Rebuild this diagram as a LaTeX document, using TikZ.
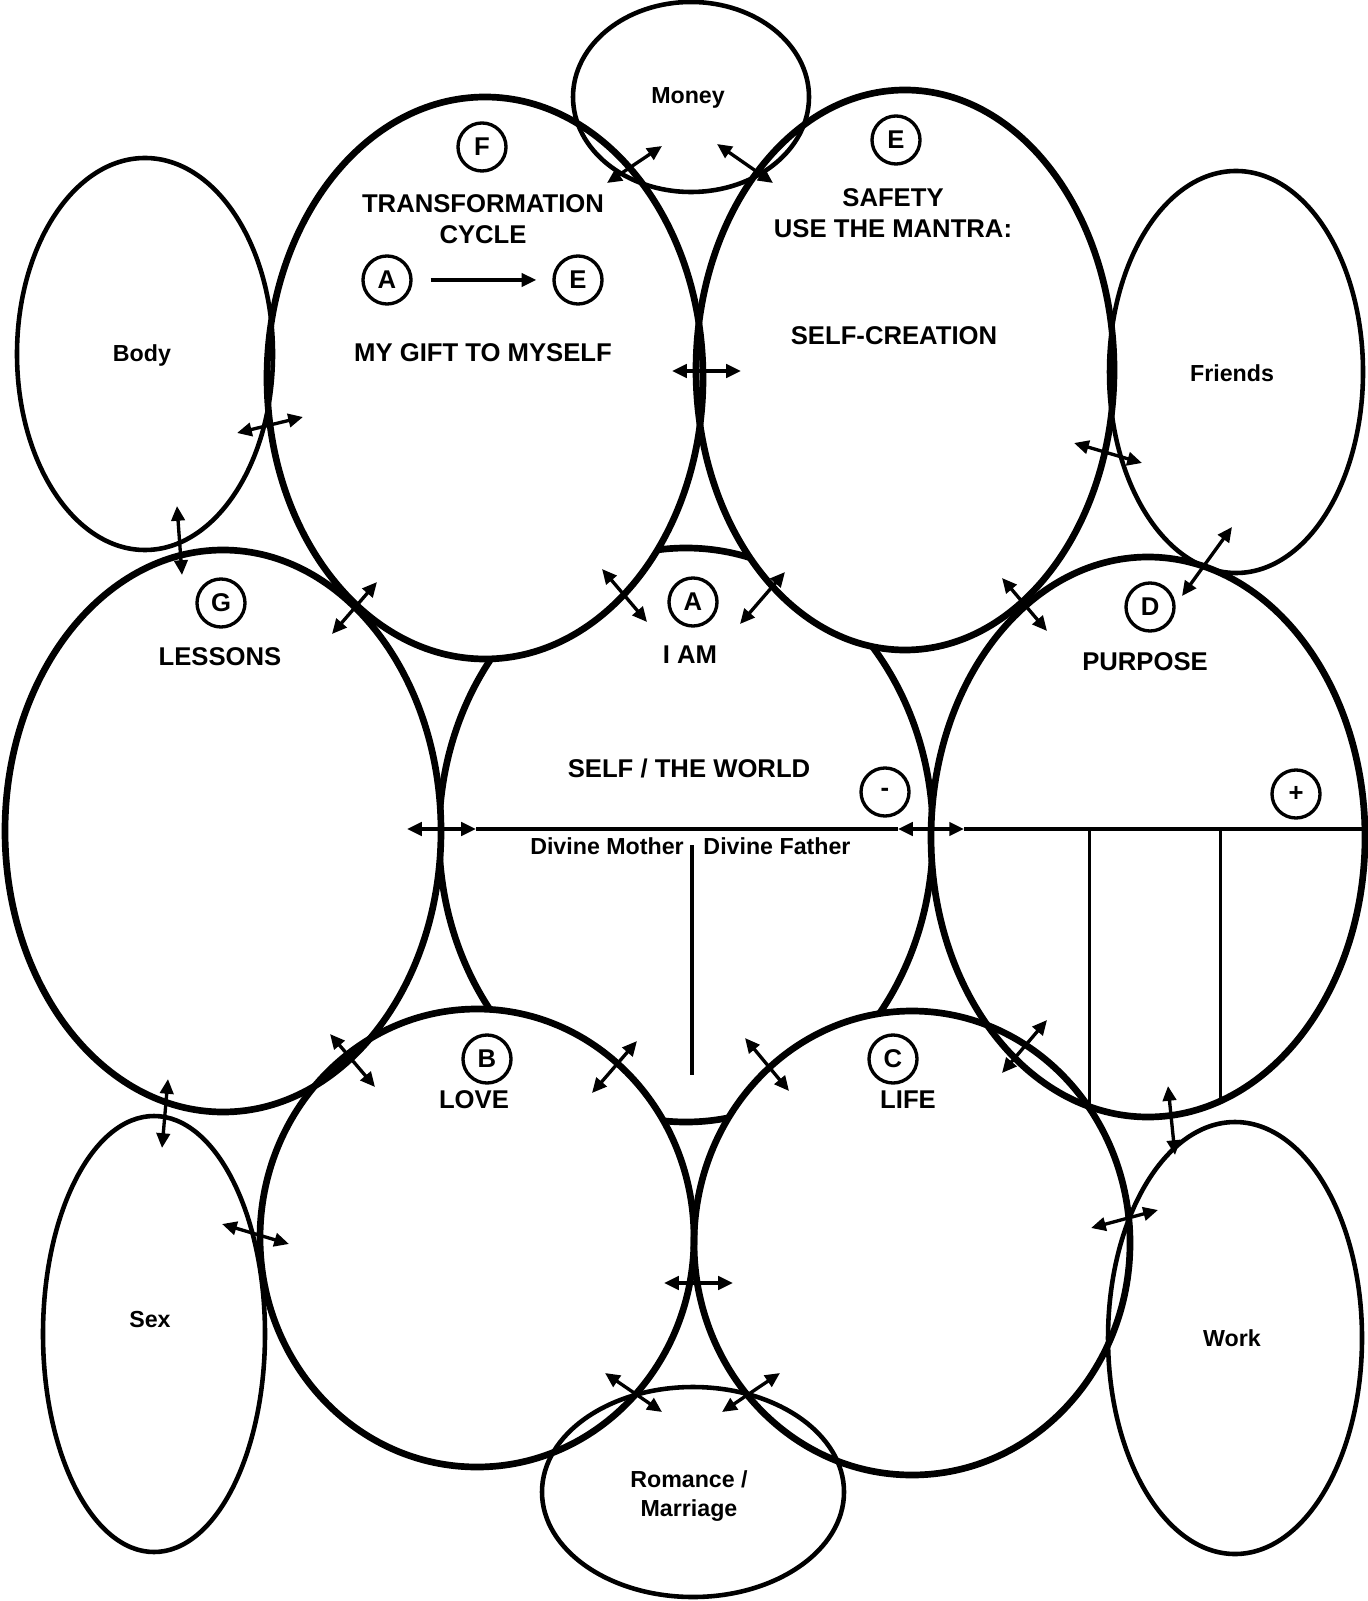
\documentclass[tikz,border=0pt]{standalone}
\usepackage{fontspec}
\setmainfont{Liberation Sans}
\usetikzlibrary{arrows.meta,shapes.geometric}

\begin{document}
\begin{tikzpicture}[x=0.01cm, y=-0.01cm,
  every node/.style={font=\bfseries\fontsize{7.3}{8.8}\selectfont, inner sep=0pt, align=center},
  >={Triangle[length=4.2pt,width=3.8pt]}]
\tikzset{
  bigring/.style={line width=1.9pt},
  smallring/.style={line width=1.3pt},
  tag/.style={draw, circle, line width=0.95pt, minimum size=0.48cm},
  small/.style={font=\bfseries\fontsize{6.6}{8.5}\selectfont},
  link/.style={<->, line width=0.95pt},
  flow/.style={->, line width=0.95pt},
  rule/.style={line width=1pt},
}
\useasboundingbox (0,0) rectangle (1367,1601);

% self / the world, hidden under the big rings
\draw[bigring] (686,835) ellipse [x radius=247, y radius=287];
\def\bigrings{485/378/218/281, 905/370/209/280, 223/831/218/281, 1148/837/217/280, 477/1238/217/229, 912/1243/218/232}
\foreach \cx/\cy/\rx/\ry in \bigrings
  \fill[white] (\cx,\cy) ellipse [x radius=\rx, y radius=\ry];
\foreach \cx/\cy/\rx/\ry in \bigrings
  \draw[bigring] (\cx,\cy) ellipse [x radius=\rx, y radius=\ry];
% money, body, friends, sex, work, romance
\foreach \cx/\cy/\rx/\ry in {691/97/118/95, 145/354/128/196, 1236/372/127/201, 154/1334/111/218, 1235/1338/127/216, 693/1492/151/105}
  \draw[smallring] (\cx,\cy) ellipse [x radius=\rx, y radius=\ry];

% labels
\node[small] (money) at (688,98) {Money};
\node[small] (body) at (142,356) {Body};
\node[small] (friends) at (1232,373) {Friends};
\node[small] (sex) at (150,1319) {Sex};
\node[small] (work) at (1232,1338) {Work};
\node[small] (romance) at (689,1496) {Romance /\\Marriage};

\node[tag] (tagF) at (482,147) {F};
\node (trans) at (483,219) {TRANSFORMATION\\CYCLE};
\node[tag] (tagA1) at (387,280) {A};
\node[tag] (tagE1) at (578,280) {E};
\draw[flow, shorten <=0.18cm, shorten >=0.16cm] (tagA1.east) -- (tagE1.west);
\node (gift) at (483,353) {MY GIFT TO MYSELF};

\node[tag] (tagE2) at (896,140) {E};
\node (safety) at (893,213) {SAFETY\\USE THE MANTRA:};
\node (selfcr) at (894,336) {SELF-CREATION};

\node[tag] (tagG) at (221,603) {G};
\node (lessons) at (220,657) {LESSONS};
\node[tag] (tagA2) at (693,602) {A};
\node (iam) at (690,655) {I AM};
\node[tag] (tagD) at (1150,607) {D};
\node (purpose) at (1145,662) {PURPOSE};

\node (world) at (689,768) {SELF / THE WORLD};
\node[tag] (minus) at (885,792) {-};
\node[tag] (plus) at (1296,794) {+};
\node[small] (mother) at (607,846) {Divine Mother};
\node[small] (father) at (777,846) {Divine Father};

\node[tag] (tagB) at (487,1059) {B};
\node (love) at (474,1100) {LOVE};
\node[tag] (tagC) at (893,1059) {C};
\node (life) at (908,1100) {LIFE};

% dividing lines
\coordinate (h1) at (407,829); \coordinate (h2) at (476,829);
\coordinate (h3) at (898,829); \coordinate (h4) at (964,829);
\coordinate (h5) at (1362,829);
\draw[link] (h1) -- (h2);
\draw[rule] (h2) -- (h3);
\draw[link] (h3) -- (h4);
\draw[rule] (h4) -- (h5);
\coordinate (v1) at (692,845); \coordinate (v2) at (692,1075);
\draw[rule] (v1) -- (v2);
\coordinate (p1) at (1089,829); \coordinate (p2) at (1089,1105);
\coordinate (p3) at (1220,829); \coordinate (p4) at (1220,1100);
\draw[line width=0.85pt] (p1) -- (p2);
\draw[line width=0.85pt] (p3) -- (p4);

% links between rings
\coordinate (mg1) at (607,183); \coordinate (mg2) at (662,146);
\coordinate (ms1) at (717,144); \coordinate (ms2) at (773,183);
\coordinate (gs1) at (672,371); \coordinate (gs2) at (741,371);
\coordinate (bg1) at (237,433); \coordinate (bg2) at (303,417);
\coordinate (bl1) at (177,506); \coordinate (bl2) at (182,575);
\coordinate (fs1) at (1142,463); \coordinate (fs2) at (1074,443);
\coordinate (fp1) at (1232,527); \coordinate (fp2) at (1182,596);
\coordinate (sp1) at (1002,578); \coordinate (sp2) at (1047,631);
\coordinate (lg1) at (377,582); \coordinate (lg2) at (332,634);
\coordinate (gw1) at (602,569); \coordinate (gw2) at (647,622);
\coordinate (sw1) at (785,572); \coordinate (sw2) at (740,624);
\coordinate (lv1) at (330,1034); \coordinate (lv2) at (375,1087);
\coordinate (vw1) at (592,1093); \coordinate (vw2) at (637,1041);
\coordinate (wc1) at (745,1038); \coordinate (wc2) at (789,1091);
\coordinate (pc1) at (1047,1020); \coordinate (pc2) at (1002,1073);
\coordinate (lx1) at (168,1079); \coordinate (lx2) at (162,1148);
\coordinate (xv1) at (222,1224); \coordinate (xv2) at (289,1244);
\coordinate (pk1) at (1168,1086); \coordinate (pk2) at (1175,1155);
\coordinate (ck1) at (1091,1228); \coordinate (ck2) at (1158,1210);
\coordinate (vc1) at (664,1283); \coordinate (vc2) at (733,1283);
\coordinate (vr1) at (605,1373); \coordinate (vr2) at (662,1412);
\coordinate (cr1) at (780,1373); \coordinate (cr2) at (722,1412);
\draw[link] (mg1) -- (mg2);
\draw[link] (ms1) -- (ms2);
\draw[link] (gs1) -- (gs2);
\draw[link] (bg1) -- (bg2);
\draw[link] (bl1) -- (bl2);
\draw[link] (fs1) -- (fs2);
\draw[link] (fp1) -- (fp2);
\draw[link] (sp1) -- (sp2);
\draw[link] (lg1) -- (lg2);
\draw[link] (gw1) -- (gw2);
\draw[link] (sw1) -- (sw2);
\draw[link] (lv1) -- (lv2);
\draw[link] (vw1) -- (vw2);
\draw[link] (wc1) -- (wc2);
\draw[link] (pc1) -- (pc2);
\draw[link] (lx1) -- (lx2);
\draw[link] (xv1) -- (xv2);
\draw[link] (pk1) -- (pk2);
\draw[link] (ck1) -- (ck2);
\draw[link] (vc1) -- (vc2);
\draw[link] (vr1) -- (vr2);
\draw[link] (cr1) -- (cr2);
\end{tikzpicture}
\end{document}
